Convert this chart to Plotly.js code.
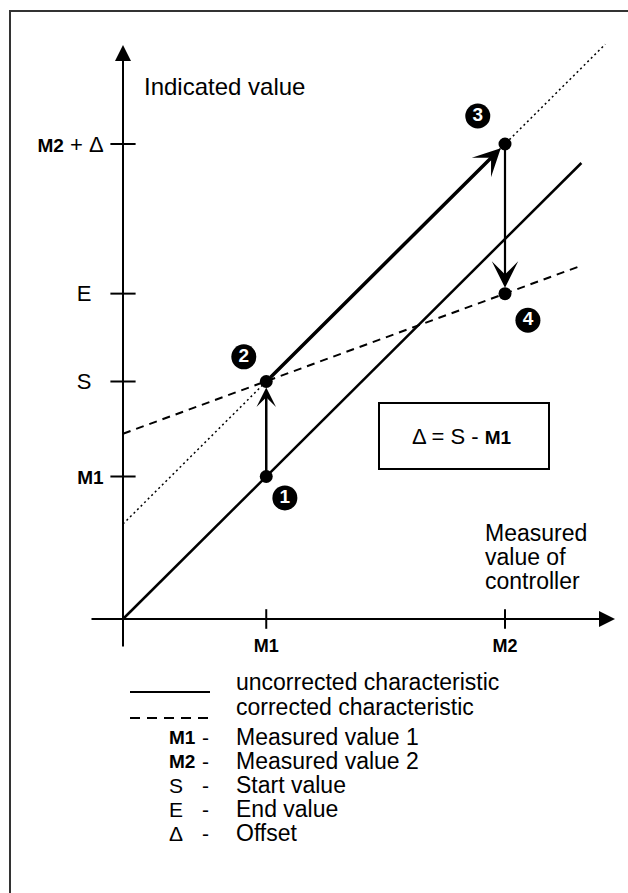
<!DOCTYPE html>
<html><head><meta charset="utf-8">
<script src="https://cdn.plot.ly/plotly-3.0.1.min.js"></script>
<style>html,body{margin:0;padding:0;background:#fff}#chart{width:628px;height:893px}</style>
</head><body><div id="chart"></div>
<script>
// ---------------- data (diagram units) ----------------
const xTickVals = [3, 8];
const xTickText = ['M1', 'M2'];
const yTickVals = [3, 5, 6.85, 10];
const yTickText = ['M1', 'S', 'E', 'M2 + Δ'];

const uncorrectedX = [0, 3, 8, 9.6];
const uncorrectedY = [0, 3, 8, 9.6];
const correctedX = [0, 3, 8, 9.6];
const correctedY = [3.9, 5, 6.85, 7.44];
const shiftedX = [0, 10.1];
const shiftedY = [2, 12.1];

const pointX = [3, 3, 8, 8];
const pointY = [3, 5, 10, 6.85];
const pointLabels = ['1', '2', '3', '4'];
const labelX = [3.39, 2.53, 7.43, 8.48];
const labelY = [2.55, 5.52, 10.59, 6.29];

const arrowFrom = [0, 1, 2];
const arrowTo = [1, 2, 3];

const lineLegendTexts = ['uncorrected characteristic', 'corrected characteristic'];
const legendKeys = ['M1', 'M2', 'S', 'E', 'Δ'];
const legendDescs = ['Measured value 1', 'Measured value 2', 'Start value', 'End value', 'Offset'];
const boxText = 'Δ = S - M1';
const yTitle = 'Indicated value';
const xTitleLines = ['Measured', 'value of', 'controller'];

// ---------------- geometry helpers ----------------
const W = 628, H = 893;
const X0 = 123, Y0 = 619, SX = 47.75, SY = 47.5;
const px2x = p => (p - X0) / SX;
const py2y = p => (Y0 - p) / SY;
const fx = p => p / W;
const fy = p => 1 - p / H;
const FONT = 'Liberation Sans, Arial, Helvetica, sans-serif';
const boldM = (s, size) => s.replace(/(M\d)/g, '<span style="font-size:' + size + 'px"><b>$1</b></span>');

// ---------------- traces ----------------
const traces = [
  {x: uncorrectedX, y: uncorrectedY, mode: 'lines', line: {color: '#000', width: 2.5}, hoverinfo: 'skip'},
  {x: correctedX, y: correctedY, mode: 'lines', line: {color: '#000', width: 2, dash: '8px,6px'}, hoverinfo: 'skip'},
  {x: shiftedX, y: shiftedY, mode: 'lines', line: {color: '#000', width: 1.5, dash: '2px,3px'}, hoverinfo: 'skip'},
  {x: xTickVals, y: xTickVals.map(() => 0), mode: 'markers',
   marker: {symbol: 'line-ns', size: 14, line: {color: '#000', width: 2}}, hoverinfo: 'skip'},
  {x: yTickVals.map(() => 0), y: yTickVals, mode: 'markers',
   marker: {symbol: 'line-ew', size: 18, line: {color: '#000', width: 2}}, hoverinfo: 'skip'},
  {x: pointX, y: pointY, mode: 'markers', marker: {color: '#000', size: 13}, hoverinfo: 'skip'},
  {x: labelX, y: labelY, mode: 'markers+text', text: pointLabels.map(t => '<b>' + t + '</b>'),
   textposition: 'middle center', textfont: {family: FONT, size: 19, color: '#fff'},
   marker: {color: '#000', size: 25}, hoverinfo: 'skip'}
];

// ---------------- annotations ----------------
const ann = [];
ann.push({x: px2x(615), y: 0, ax: px2x(90), ay: 0, xref: 'x', yref: 'y', axref: 'x', ayref: 'y',
  text: '', showarrow: true, arrowhead: 2, arrowwidth: 2, arrowsize: 1.6, arrowcolor: '#000'});
ann.push({x: 0, y: py2y(45), ax: 0, ay: py2y(648), xref: 'x', yref: 'y', axref: 'x', ayref: 'y',
  text: '', showarrow: true, arrowhead: 2, arrowwidth: 2, arrowsize: 1.6, arrowcolor: '#000'});
const arrowStyle = [
  {w: 2.5, s: 1.3},
  {w: 3.5, s: 1.3},
  {w: 2.2, s: 2.0}
];
arrowFrom.forEach((f, i) => {
  const t = arrowTo[i];
  ann.push({x: pointX[t], y: pointY[t], ax: pointX[f], ay: pointY[f],
    xref: 'x', yref: 'y', axref: 'x', ayref: 'y', text: '', showarrow: true,
    arrowhead: 3, arrowwidth: arrowStyle[i].w, arrowsize: arrowStyle[i].s, arrowcolor: '#000',
    standoff: 6, startstandoff: 4});
});
ann.push({x: fx(142), y: fy(87), xref: 'paper', yref: 'paper', xanchor: 'left', yanchor: 'middle',
  text: yTitle, showarrow: false, font: {family: FONT, size: 24, color: '#000'}});
const xtY = [533, 557, 581];
xTitleLines.forEach((t, i) => ann.push({x: fx(483), y: fy(xtY[i]), xref: 'paper', yref: 'paper',
  xanchor: 'left', yanchor: 'middle', text: t, showarrow: false, font: {family: FONT, size: 23, color: '#000'}}));
ann.push({x: fx(462), y: fy(436), xref: 'paper', yref: 'paper', xanchor: 'center', yanchor: 'middle',
  text: boldM(boxText, 19), showarrow: false, font: {family: FONT, size: 22, color: '#000'}});
const lineRowsY = [682, 707];
lineLegendTexts.forEach((t, i) => ann.push({x: fx(234), y: fy(lineRowsY[i]), xref: 'paper', yref: 'paper',
  xanchor: 'left', yanchor: 'middle', text: t, showarrow: false, font: {family: FONT, size: 23, color: '#000'}}));
const keyRowsY = [737, 761, 785, 809, 833];
legendKeys.forEach((k, i) => {
  ann.push({x: fx(167), y: fy(keyRowsY[i]), xref: 'paper', yref: 'paper', xanchor: 'left', yanchor: 'middle',
    text: boldM(k, 19), showarrow: false, font: {family: FONT, size: 21, color: '#000'}});
  ann.push({x: fx(200), y: fy(keyRowsY[i]), xref: 'paper', yref: 'paper', xanchor: 'left', yanchor: 'middle',
    text: '-', showarrow: false, font: {family: FONT, size: 21, color: '#000'}});
  ann.push({x: fx(234), y: fy(keyRowsY[i]), xref: 'paper', yref: 'paper', xanchor: 'left', yanchor: 'middle',
    text: legendDescs[i], showarrow: false, font: {family: FONT, size: 23, color: '#000'}});
});

// ---------------- shapes ----------------
const shapes = [
  {type: 'line', xref: 'paper', yref: 'paper', x0: fx(9), x1: fx(628), y0: fy(11), y1: fy(11), line: {color: '#333', width: 2}},
  {type: 'line', xref: 'paper', yref: 'paper', x0: fx(10), x1: fx(10), y0: fy(10), y1: fy(893), line: {color: '#333', width: 2}},
  {type: 'rect', xref: 'paper', yref: 'paper', x0: fx(379), x1: fx(549), y0: fy(403), y1: fy(469), line: {color: '#000', width: 2}},
  {type: 'line', xref: 'paper', yref: 'paper', x0: fx(130), x1: fx(210), y0: fy(692), y1: fy(692), line: {color: '#000', width: 2}},
  {type: 'line', xref: 'paper', yref: 'paper', x0: fx(130), x1: fx(210), y0: fy(718), y1: fy(718), line: {color: '#000', width: 2, dash: '10px,7px'}}
];

const layout = {
  width: W, height: H,
  margin: {l: 0, r: 0, t: 0, b: 0, pad: 0},
  paper_bgcolor: '#fff', plot_bgcolor: '#fff',
  showlegend: false,
  xaxis: {range: [px2x(0), px2x(W)], anchor: 'free', position: fy(Y0), tickvals: xTickVals,
    ticktext: xTickText.map(t => '<b>' + t + '</b>'), ticks: 'outside', ticklen: 10, tickcolor: 'rgba(0,0,0,0)',
    showline: false, zeroline: false, showgrid: false, fixedrange: true, automargin: false,
    tickfont: {family: FONT, size: 18, color: '#000'}},
  yaxis: {range: [py2y(H), py2y(0)], anchor: 'free', position: fx(X0), side: 'left', tickvals: yTickVals,
    ticktext: yTickText.map(t => /M\d/.test(t) ? boldM(t, 19) : t + '\u00a0\u00a0'), ticks: 'outside', ticklen: 15,
    tickcolor: 'rgba(0,0,0,0)', showline: false, zeroline: false, showgrid: false, fixedrange: true, automargin: false,
    tickfont: {family: FONT, size: 22, color: '#000'}},
  annotations: ann,
  shapes: shapes
};

Plotly.newPlot('chart', traces, layout, {displayModeBar: false, staticPlot: true});
</script>
</body></html>
